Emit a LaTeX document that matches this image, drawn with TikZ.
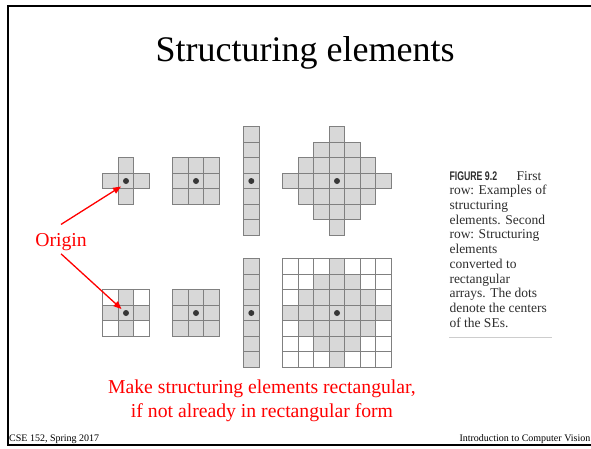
\documentclass[tikz,border=0pt]{standalone}
\usepackage{fontspec}
\setmainfont{Liberation Serif}
\newfontfamily\capsans{Liberation Sans}
\usepackage{graphicx}
\usetikzlibrary{arrows.meta}
\definecolor{cellgray}{RGB}{216,216,216}
\definecolor{linegray}{RGB}{128,128,128}
\definecolor{dotcol}{RGB}{55,55,55}
\definecolor{captext}{RGB}{45,45,45}
\definecolor{rulegray}{RGB}{205,205,205}
\begin{document}
\begin{tikzpicture}[x=1pt,y=-1pt,
  secell/.style={fill=cellgray,draw=linegray,line width=0.9pt},
  whitecell/.style={fill=white,draw=linegray,line width=0.9pt},
  sedot/.style={fill=dotcol},
  redtext/.style={text=red,font=\fontsize{19.7}{24}\selectfont,inner sep=0pt},
  arr/.style={draw=red,line width=1.3pt,-{Triangle[length=8pt,width=6.5pt]}},
  captxt/.style={text=captext,font=\fontsize{13.5}{14.7}\selectfont,anchor=base west,inner sep=0pt},
  foot/.style={font=\fontsize{10}{12}\selectfont,inner sep=0pt}]
\useasboundingbox (0,0) rectangle (591,448);
\def\cs{15.5}
% slide frame
\draw[line width=2pt] (591,6) -- (7.7,6) -- (7.7,444.5) -- (591,444.5);
% title
\node (title) [anchor=base,font=\fontsize{36}{40}\selectfont,inner sep=0pt] at (305,61) {Structuring elements};
% ---- first row ----
\foreach \i/\j in {0/-1,-1/0,0/0,1/0,0/1}
  \draw[secell] ({126+(\i-0.5)*\cs},{181+(\j-0.5)*\cs}) rectangle ++(\cs,\cs);
\foreach \i in {-1,0,1}{\foreach \j in {-1,0,1}{
  \draw[secell] ({196+(\i-0.5)*\cs},{181+(\j-0.5)*\cs}) rectangle ++(\cs,\cs);}}
\foreach \j in {-3,...,3}
  \draw[secell] ({251.3-0.5*\cs},{181+(\j-0.5)*\cs}) rectangle ++(\cs,\cs);
\foreach \i in {-3,...,3}{\foreach \j in {-3,...,3}{
  \pgfmathtruncatemacro\dd{abs(\i)+abs(\j)}
  \ifnum\dd<4 \draw[secell] ({337+(\i-0.5)*\cs},{181+(\j-0.5)*\cs}) rectangle ++(\cs,\cs);\fi}}
% ---- second row ----
\foreach \i in {-1,0,1}{\foreach \j in {-1,0,1}{
  \pgfmathtruncatemacro\pp{\i*\j}
  \ifnum\pp=0 \draw[secell] ({126+(\i-0.5)*\cs},{313+(\j-0.5)*\cs}) rectangle ++(\cs,\cs);
  \else \draw[whitecell] ({126+(\i-0.5)*\cs},{313+(\j-0.5)*\cs}) rectangle ++(\cs,\cs);\fi}}
\foreach \i in {-1,0,1}{\foreach \j in {-1,0,1}{
  \draw[secell] ({196+(\i-0.5)*\cs},{313+(\j-0.5)*\cs}) rectangle ++(\cs,\cs);}}
\foreach \j in {-3,...,3}
  \draw[secell] ({251.3-0.5*\cs},{313+(\j-0.5)*\cs}) rectangle ++(\cs,\cs);
\foreach \i in {-3,...,3}{\foreach \j in {-3,...,3}{
  \pgfmathtruncatemacro\dd{abs(\i)+abs(\j)}
  \ifnum\dd<4 \draw[secell] ({337+(\i-0.5)*\cs},{313+(\j-0.5)*\cs}) rectangle ++(\cs,\cs);
  \else \draw[whitecell] ({337+(\i-0.5)*\cs},{313+(\j-0.5)*\cs}) rectangle ++(\cs,\cs);\fi}}
% centre dots
\foreach \x in {126,196,251.3,337}{
  \fill[sedot] (\x,181) circle[radius=3pt];
  \fill[sedot] (\x,313) circle[radius=3pt];}
% caption
\node (cap1) [captxt] at (449.3,180) {\scalebox{0.7}[1]{\capsans\bfseries\fontsize{12.5}{14}\selectfont FIGURE 9.2}\hspace{19.5pt}First};
\foreach \t [count=\k from 2] in {row: Examples of,structuring,elements. Second,row: Structuring,elements,converted to,rectangular,arrays. The dots,denote the centers,of the SEs.}
  \node (cap\k) [captxt] at (449.3,{180+(\k-1)*14.73}) {\t};
\draw[rulegray,line width=0.8pt] (449.3,337.7) -- (552,337.7);
% origin label and arrows
\node (origin) [anchor=base,text=red,font=\fontsize{19.7}{24}\selectfont] at (61,246) {Origin};
\coordinate (tip1) at (121,186.5);
\coordinate (tip2) at (121.5,309);
\draw[arr] ([yshift=5pt]origin.north) -- (tip1);
\draw[arr] (origin.south) -- (tip2);
% red note
\node (note1) [redtext,anchor=base] at (262,393) {Make structuring elements rectangular,};
\node (note2) [redtext,anchor=base] at (262,417) {if not already in rectangular form};
% footer
\node (footl) [foot,anchor=base west] at (9,441) {CSE 152, Spring 2017};
\node (footr) [foot,anchor=base east] at (590.5,441) {Introduction to Computer Vision};
\end{tikzpicture}
\end{document}
